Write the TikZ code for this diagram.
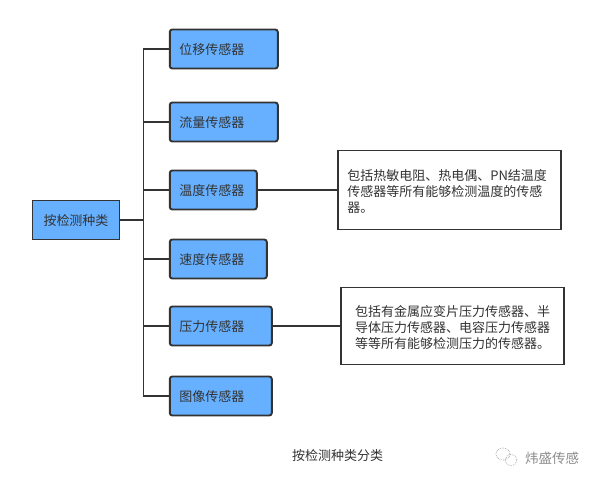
\documentclass[tikz,border=0pt]{standalone}
\usepackage{fontspec}
\usepackage{xcolor}
\usetikzlibrary{positioning}
\setmainfont{Noto Sans CJK SC}
\definecolor{SensorBlue}{HTML}{66B0FF}
\definecolor{SensorLine}{HTML}{333333}

\begin{document}
\begin{tikzpicture}[
    x=1pt,y=1pt,
    font=\fontsize{13pt}{16pt}\selectfont,
    text=SensorLine,
    rootbox/.style={
      draw=SensorLine,
      fill=SensorBlue,
      line width=1.9pt,
      minimum width=87pt,
      minimum height=39pt,
      text height=13pt,
      text depth=2pt,
      outer sep=0pt,
      inner sep=0pt
    },
    sensorbox/.style={
      draw=SensorLine,
      fill=SensorBlue,
      line width=1.9pt,
      rounded corners=2.5pt,
      minimum height=39pt,
      text height=13pt,
      text depth=2pt,
      outer sep=0pt,
      inner xsep=9.5pt,
      inner ysep=0pt,
      align=left,
      anchor=north west
    },
    notebox/.style={
      draw=SensorLine,
      fill=white,
      line width=1.9pt,
      outer sep=0pt,
      inner ysep=0pt,
      align=left,
      anchor=west,
      execute at begin node={\rule{0pt}{13.5pt}}
    },
    sensorlink/.style={
      draw=SensorLine,
      line width=1.9pt
    }
  ]
  \useasboundingbox (0,0) rectangle (598,-483);

  % 根节点
  \node[rootbox] (root) at (76,-220) {按检测种类};

  % 六个分类
  \node[sensorbox, text width=89pt] (disp) at (169.8,-29.5) {位移传感器};
  \node[sensorbox, text width=89pt, below=34pt of disp.south west, anchor=north west] (flow) {流量传感器};
  \node[sensorbox, text width=68pt, below=29pt of flow.south west, anchor=north west] (temp) {温度传感器};
  \node[sensorbox, text width=78pt, below=30pt of temp.south west, anchor=north west] (speed) {速度传感器};
  \node[sensorbox, text width=83pt, below=28pt of speed.south west, anchor=north west] (press) {压力传感器};
  \node[sensorbox, text width=83pt, below=31pt of press.south west, anchor=north west] (image) {图像传感器};

  % 说明框
  \node[notebox, inner xsep=9.5pt, text width=204pt, minimum height=79pt] (tempnote) at (337.8,-190) {包括热敏电阻、热电偶、PN结温度\\传感器等所有能够检测温度的传感\\器。};
  \node[notebox, inner xsep=13.8pt, text width=195.4pt, minimum height=77pt] (pressnote) at (341.3,-326) {包括有金属应变片压力传感器、半\\导体压力传感器、电容压力传感器\\等等所有能够检测压力的传感器。};

  % 主干与分支
  \foreach \branch in {disp,flow,temp,speed,press,image}
    \draw[sensorlink] (root.east) -- ++(24pt,0) |- (\branch.west);
  \draw[sensorlink] (temp.east) -- (tempnote.west);
  \draw[sensorlink] (press.east) -- (pressnote.west);

  % 图注与水印
  \node (caption) at (337.5,-455.5) {按检测种类分类};
  \node[text=black!45, font=\fontsize{13.5pt}{16pt}\selectfont] (mark) at (552,-458) {炜盛传感};
  \draw[black!30, densely dotted, line width=0.8pt] (503,-454) ellipse (7pt and 6pt);
  \draw[black!30, densely dotted, line width=0.8pt] (511,-460) ellipse (6pt and 5.5pt);
\end{tikzpicture}
\end{document}
